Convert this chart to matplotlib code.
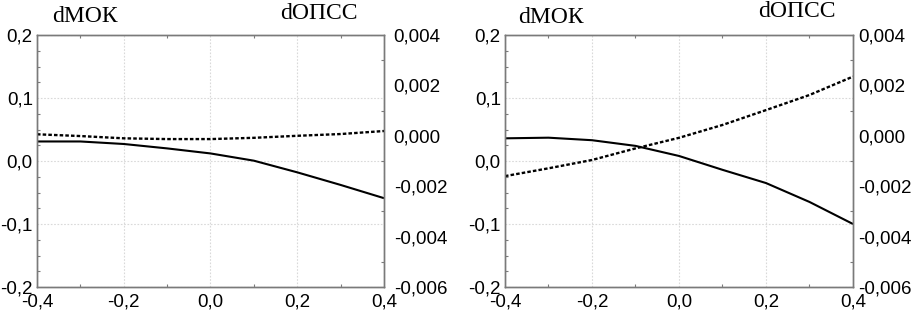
import matplotlib
matplotlib.use("Agg")
import matplotlib.pyplot as plt
from matplotlib.ticker import FuncFormatter, MultipleLocator

x = [-0.4, -0.3, -0.2, -0.1, 0.0, 0.1, 0.2, 0.3, 0.4]

# Left panel
mok_left = [0.031, 0.031, 0.027, 0.020, 0.012, 0.0005, -0.018, -0.038, -0.059]
opss_left = [0.00006, -0.00001, -0.0001, -0.00013, -0.00013, -0.00008, 0.0, 0.00007, 0.00019]

# Right panel
mok_right = [0.036, 0.037, 0.033, 0.024, 0.008, -0.014, -0.035, -0.065, -0.100]
opss_right = [-0.0016, -0.00129, -0.00096, -0.0005, -0.00008, 0.00043, 0.00102, 0.00162, 0.00235]

title_left = "dМОК"
title_right = "dОПСС"

SANS = "Liberation Sans"
SERIF = "Liberation Serif"
SPINE = "#7a7a7a"
FS = 13.5


def fmt(dec):
    def f(v, pos):
        if abs(v) < 1e-12:
            v = 0.0
        return f"{v:.{dec}f}".replace(".", ",")
    return FuncFormatter(f)


fig = plt.figure(figsize=(9.12, 3.15), dpi=100)

panels = [
    (37 / 912, 384 / 912, mok_left, opss_left,
     (52, 22), (280, 19), 7),
    (505 / 912, 853 / 912, mok_right, opss_right,
     (518, 23), (758, 17), 4),
]

for left, right, mok, opss, t1, t2, rpad in panels:
    ax = fig.add_axes([left, 1 - 287 / 315, right - left, (287 - 35) / 315])
    ax2 = ax.twinx()
    ax.set_xlim(-0.4, 0.4)
    ax.set_ylim(-0.2, 0.2)
    ax2.set_ylim(-0.006, 0.004)

    ax.xaxis.set_major_locator(MultipleLocator(0.2))
    ax.xaxis.set_minor_locator(MultipleLocator(0.1))
    ax.yaxis.set_major_locator(MultipleLocator(0.1))
    ax.yaxis.set_minor_locator(MultipleLocator(0.025))
    ax2.yaxis.set_major_locator(MultipleLocator(0.002))
    ax2.yaxis.set_minor_locator(MultipleLocator(0.001))

    ax.xaxis.set_major_formatter(fmt(1))
    ax.yaxis.set_major_formatter(fmt(1))
    ax2.yaxis.set_major_formatter(fmt(3))

    ax.grid(True, which="major", color="#d9d9d9", linestyle=(0, (1.5, 1.5)), linewidth=0.8)
    ax.set_axisbelow(True)

    ax.tick_params(axis="y", which="major", length=0, labelsize=FS, pad=3)
    ax.tick_params(axis="x", which="major", length=0, labelsize=FS, pad=5)
    ax.tick_params(axis="both", which="minor", direction="in", length=2.5,
                   width=0.8, color=SPINE, top=True, right=False)
    ax2.tick_params(axis="y", which="major", length=0, labelsize=FS, pad=rpad)
    ax2.tick_params(axis="y", which="minor", direction="in", length=2.5,
                    width=0.8, color=SPINE)
    for a in (ax, ax2):
        for lab in a.get_xticklabels() + a.get_yticklabels():
            lab.set_fontfamily(SANS)
        for s in a.spines.values():
            s.set_color(SPINE)
            s.set_linewidth(1.0)

    ax.plot(x, mok, color="black", linewidth=1.5, solid_capstyle="butt")
    ax2.plot(x, opss, color="black", linewidth=1.7, linestyle=(0, (1.5, 0.9)))

    fig.text(t1[0] / 912, 1 - t1[1] / 315, title_left, fontfamily=SERIF,
             fontsize=17, ha="left", va="baseline")
    fig.text(t2[0] / 912, 1 - t2[1] / 315, title_right, fontfamily=SERIF,
             fontsize=17, ha="left", va="baseline")

fig.savefig("out.png", dpi=100)
